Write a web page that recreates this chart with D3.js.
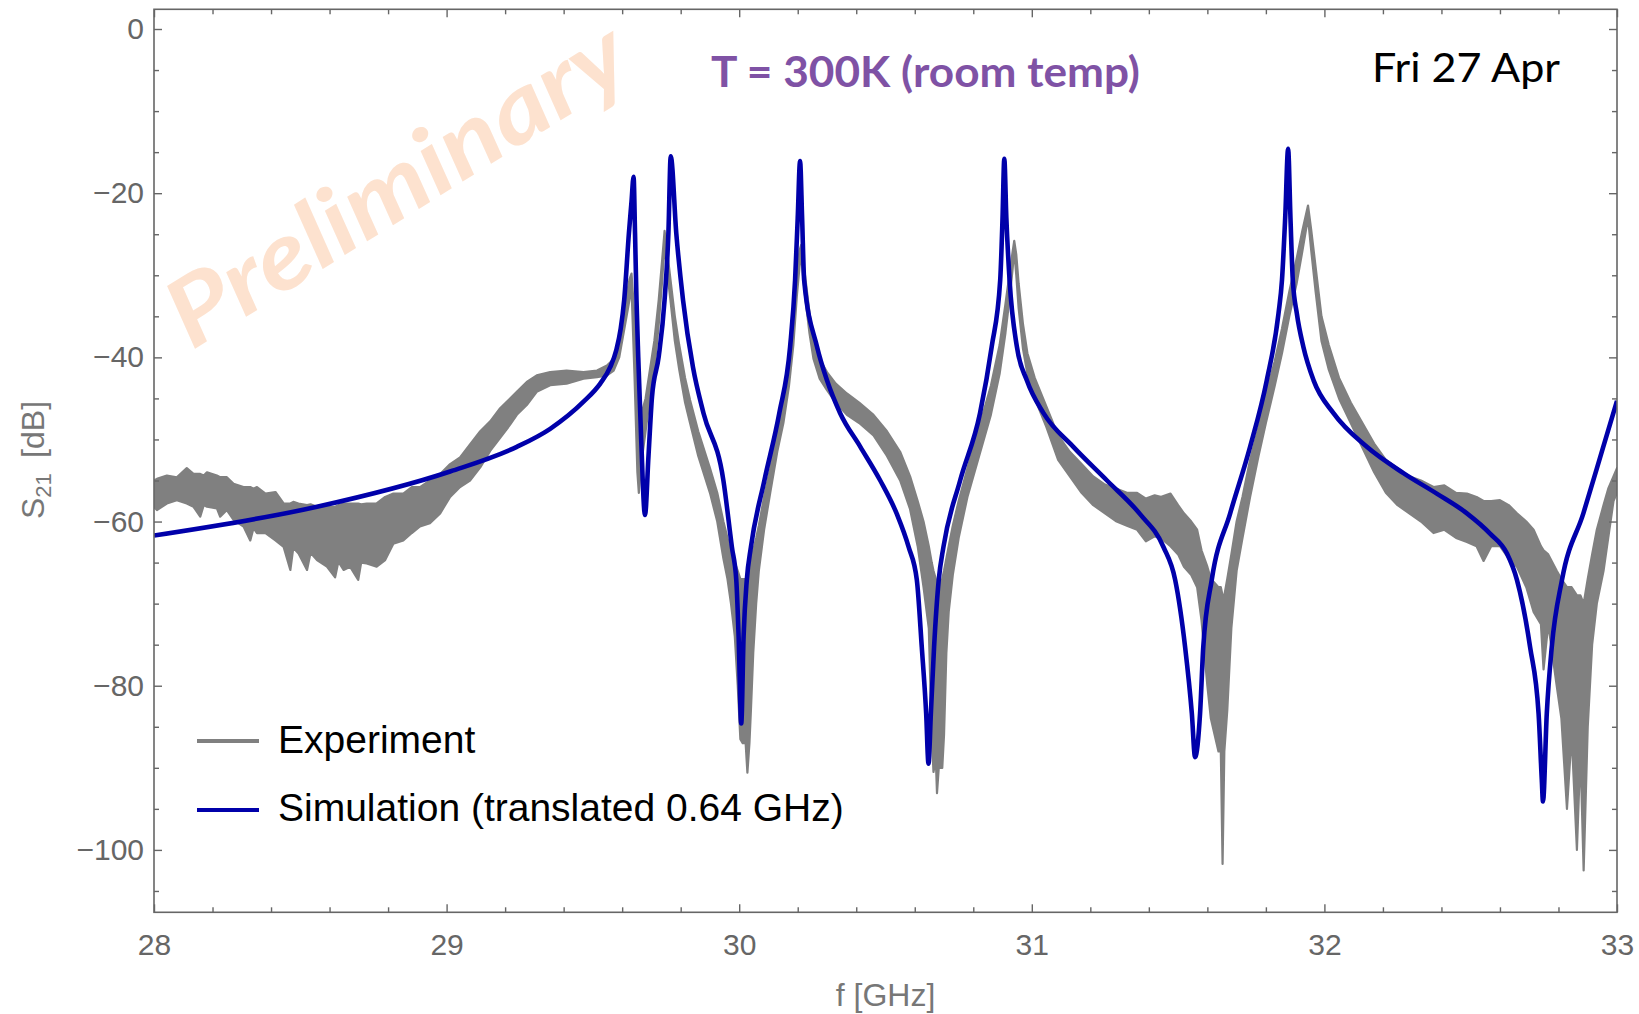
<!DOCTYPE html>
<html>
<head>
<meta charset="utf-8">
<script src="https://cdn.jsdelivr.net/npm/d3@7"></script>
<style>
  html, body { margin: 0; padding: 0; background: #fff; }
  svg { display: block; }
</style>
</head>
<body>
<div id="chart"></div>
<script>
// Measured S21 (grey trace): frequency in GHz with the upper and lower edge of the noisy band in dB.
const expFreq = [
  28.0, 28.01, 28.044, 28.078, 28.112, 28.135, 28.158, 28.17, 28.181, 28.215, 28.226, 28.249,
  28.272, 28.306, 28.329, 28.34, 28.352, 28.381, 28.415, 28.443, 28.466, 28.476, 28.494, 28.523,
  28.535, 28.557, 28.591, 28.619, 28.63, 28.648, 28.67, 28.698, 28.708, 28.727, 28.761, 28.79,
  28.818, 28.852, 28.881, 28.909, 28.943, 28.978, 29.012, 29.046, 29.08, 29.115, 29.149, 29.183,
  29.217, 29.24, 29.274, 29.308, 29.354, 29.41, 29.468, 29.514, 29.548, 29.571, 29.59, 29.61,
  29.625, 29.632, 29.642, 29.652, 29.657, 29.665, 29.68, 29.695, 29.71, 29.725, 29.737, 29.745,
  29.752, 29.765, 29.78, 29.795, 29.815, 29.832, 29.86, 29.9, 29.925, 29.946, 29.96, 29.972,
  29.985, 29.995, 30.004, 30.012, 30.022, 30.028, 30.035, 30.04, 30.048, 30.058, 30.067, 30.085,
  30.106, 30.13, 30.151, 30.17, 30.185, 30.197, 30.206, 30.212, 30.218, 30.225, 30.24, 30.254,
  30.275, 30.3, 30.33, 30.368, 30.41, 30.459, 30.505, 30.55, 30.584, 30.61, 30.63, 30.648,
  30.658, 30.664, 30.672, 30.676, 30.682, 30.694, 30.7, 30.708, 30.716, 30.73, 30.75, 30.78,
  30.82, 30.86, 30.89, 30.91, 30.925, 30.935, 30.94, 30.947, 30.955, 30.97, 30.985, 31.01,
  31.05, 31.09, 31.13, 31.17, 31.21, 31.25, 31.29, 31.325, 31.36, 31.39, 31.42, 31.44,
  31.474, 31.5, 31.52, 31.545, 31.565, 31.58, 31.6, 31.612, 31.625, 31.638, 31.646, 31.652,
  31.658, 31.668, 31.682, 31.7, 31.72, 31.746, 31.775, 31.8, 31.83, 31.855, 31.88, 31.905,
  31.925, 31.944, 31.955, 31.97, 31.99, 32.015, 32.05, 32.09, 32.13, 32.17, 32.21, 32.25,
  32.29, 32.33, 32.373, 32.41, 32.45, 32.487, 32.52, 32.544, 32.57, 32.6, 32.63, 32.658,
  32.69, 32.715, 32.74, 32.749, 32.765, 32.794, 32.81, 32.829, 32.845, 32.863, 32.875, 32.886,
  32.9, 32.915, 32.931, 32.954, 32.97, 32.988, 33.0
];
const expUpper = [
  -55.0, -54.8, -54.4, -54.6, -53.5, -54.2, -54.2, -54.4, -54.0, -54.4, -54.6, -54.6,
  -55.4, -55.8, -55.8, -56.0, -55.8, -56.6, -56.4, -57.8, -57.8, -57.6, -57.8, -58.0,
  -57.9, -58.2, -58.2, -58.2, -58.0, -57.8, -57.8, -57.8, -57.9, -57.8, -57.8, -57.0,
  -56.6, -56.6, -55.8, -55.8, -55.0, -54.2, -53.0, -52.2, -50.6, -49.0, -47.8, -46.2,
  -45.0, -44.2, -43.0, -42.2, -41.8, -41.6, -41.8, -41.6, -41.0, -40.2, -38.0, -33.5,
  -30.5, -29.8, -35.0, -45.0, -49.0, -47.0, -45.0, -41.5, -38.0, -33.0, -28.0, -24.6,
  -26.5, -30.5, -35.0, -38.5, -42.5, -45.2, -49.0, -53.5, -56.5, -60.0, -62.0, -64.0,
  -65.0, -66.0, -67.0, -67.0, -67.0, -67.0, -66.0, -65.0, -63.5, -62.0, -60.5, -57.0,
  -53.5, -49.0, -45.5, -41.0, -36.0, -30.0, -27.0, -26.3, -28.0, -30.0, -34.5, -37.8,
  -40.2, -41.8, -43.2, -44.4, -45.5, -47.0, -49.0, -51.5, -54.5, -57.5, -60.0, -63.0,
  -65.0, -66.0, -67.0, -68.0, -68.0, -67.0, -66.0, -64.5, -63.0, -60.5, -57.5, -53.5,
  -48.5, -43.5, -38.5, -33.5, -29.5, -27.0, -25.8, -27.5, -31.0, -36.0, -39.5, -42.5,
  -46.0, -49.5, -51.5, -53.0, -54.5, -55.5, -56.0, -56.5, -56.5, -57.2, -56.8, -57.0,
  -56.6, -58.0, -59.0, -60.0, -61.0, -63.5, -65.5, -67.0, -67.5, -68.0, -68.0, -69.0,
  -69.0, -67.0, -64.0, -60.0, -57.0, -52.5, -48.5, -44.5, -40.5, -36.5, -32.0, -28.0,
  -24.5, -21.5, -24.5, -29.0, -35.0, -38.5, -42.5, -45.5, -48.0, -50.5, -52.5, -53.5,
  -54.5, -55.0, -55.8, -55.6, -56.5, -56.6, -57.0, -57.5, -57.5, -57.4, -58.0, -59.0,
  -60.0, -61.0, -63.0, -63.5, -64.0, -66.0, -67.0, -68.0, -68.0, -69.0, -69.0, -70.0,
  -67.0, -64.0, -61.0, -58.0, -56.0, -54.5, -53.5
];
const expLower = [
  -58.2, -58.6, -57.8, -57.4, -57.8, -58.2, -59.4, -58.0, -58.2, -58.4, -59.4, -58.6,
  -59.8, -60.6, -62.3, -60.8, -61.4, -61.4, -62.3, -63.1, -65.9, -63.2, -63.9, -65.9,
  -63.8, -64.7, -65.5, -66.8, -64.9, -65.9, -65.5, -67.1, -65.0, -65.1, -65.5, -64.7,
  -62.7, -62.3, -61.4, -60.6, -60.2, -59.0, -57.0, -55.8, -55.0, -53.4, -51.4, -49.8,
  -48.2, -47.0, -45.8, -44.2, -43.4, -43.2, -42.6, -42.4, -42.2, -41.6, -40.0, -36.0,
  -33.0, -31.5, -42.0, -54.0, -56.5, -53.0, -49.0, -45.0, -41.5, -36.0, -30.5, -26.2,
  -29.0, -33.0, -38.0, -41.5, -45.5, -48.0, -52.0, -56.5, -60.0, -64.5, -67.0, -70.0,
  -74.0, -80.0, -86.5, -87.0, -87.0, -90.6, -87.0, -83.0, -76.0, -70.0, -66.0, -61.0,
  -56.5, -51.5, -48.0, -43.5, -38.5, -32.5, -29.0, -27.5, -30.0, -32.5, -37.0, -40.2,
  -42.6, -44.0, -45.5, -47.0, -48.0, -49.5, -52.0, -55.0, -58.5, -63.0, -68.0, -73.0,
  -86.0, -90.5, -89.0, -93.1, -90.0, -90.0, -86.0, -76.0, -71.0, -66.5, -62.0, -57.0,
  -52.0, -47.0, -42.0, -37.0, -32.5, -29.0, -27.0, -30.0, -34.0, -39.0, -42.0, -45.0,
  -48.5, -52.5, -54.5, -56.5, -58.0, -59.0, -60.0, -60.5, -61.0, -62.4, -61.8, -62.0,
  -63.0, -64.0, -65.5, -66.5, -68.0, -72.0, -80.0, -84.0, -86.0, -88.0, -88.0, -101.7,
  -88.0, -83.0, -73.0, -66.0, -62.0, -57.0, -52.0, -48.0, -43.5, -39.5, -35.0, -31.0,
  -27.0, -23.0, -27.0, -32.0, -38.0, -41.5, -45.0, -48.0, -51.0, -54.0, -56.5, -58.0,
  -59.0, -60.0, -61.4, -61.0, -62.0, -62.5, -63.0, -64.8, -63.0, -63.0, -64.5, -65.5,
  -68.0, -71.0, -72.5, -78.0, -72.5, -80.0, -84.0, -95.0, -86.0, -100.0, -88.0, -102.5,
  -85.0, -75.0, -70.0, -66.0, -62.0, -57.5, -56.5
];

// Simulated S21 (blue curve), shifted by 0.64 GHz.
const simFreq = [
  28.0, 28.557, 29.012, 29.24, 29.354, 29.468, 29.525, 29.559, 29.58, 29.595, 29.607, 29.623,
  29.632, 29.639, 29.644, 29.649, 29.655, 29.665, 29.678, 29.69, 29.702, 29.725, 29.745, 29.758,
  29.766, 29.785, 29.808, 29.842, 29.878, 29.946, 29.975, 29.99, 29.998, 30.007, 30.015, 30.026,
  30.04, 30.086, 30.137, 30.174, 30.191, 30.2, 30.208, 30.215, 30.222, 30.266, 30.3, 30.345,
  30.414, 30.482, 30.539, 30.579, 30.607, 30.624, 30.639, 30.647, 30.655, 30.666, 30.682, 30.698,
  30.755, 30.823, 30.863, 30.892, 30.9, 30.906, 30.913, 30.924, 30.949, 30.983, 31.04, 31.142,
  31.257, 31.37, 31.45, 31.49, 31.524, 31.547, 31.558, 31.575, 31.586, 31.615, 31.678, 31.746,
  31.803, 31.843, 31.855, 31.866, 31.876, 31.884, 31.892, 31.906, 31.928, 31.963, 32.031, 32.145,
  32.27, 32.384, 32.487, 32.567, 32.624, 32.658, 32.703, 32.732, 32.743, 32.747, 32.76, 32.777,
  32.812, 32.885, 32.953, 33.0
];
const simDb = [
  -61.7, -58.2, -53.9, -50.9, -48.7, -45.4, -43.2, -41.2, -39.1, -36.5, -33.0, -24.9,
  -21.0, -18.0, -24.9, -33.0, -40.0, -50.0, -59.2, -52.0, -44.8, -39.9, -33.0, -24.9,
  -15.5, -24.9, -33.0, -41.2, -46.8, -55.0, -63.1, -67.1, -74.0, -84.6, -74.0, -67.1,
  -63.1, -55.0, -46.8, -38.7, -30.6, -23.0, -16.1, -23.0, -30.6, -38.7, -42.8, -46.8,
  -50.9, -55.0, -59.1, -63.1, -67.1, -75.3, -83.4, -89.5, -83.4, -75.3, -67.1, -63.1,
  -55.0, -46.8, -38.7, -30.6, -23.0, -15.8, -23.0, -30.6, -38.7, -42.8, -46.8, -50.9,
  -55.0, -59.1, -63.1, -67.1, -75.3, -83.4, -88.7, -83.4, -75.3, -67.1, -59.0, -50.9,
  -42.8, -34.7, -30.6, -23.0, -14.6, -23.0, -30.6, -34.7, -38.7, -42.8, -46.8, -50.9,
  -54.1, -56.6, -59.0, -61.5, -63.9, -67.1, -75.3, -83.4, -91.5, -94.1, -83.4, -75.3,
  -67.1, -59.0, -50.9, -45.3
];

const xTicks = [28, 29, 30, 31, 32, 33];
const yTicks = [0, -20, -40, -60, -80, -100];
const seriesNames = ['Experiment', 'Simulation (translated 0.64 GHz)'];

(function(){
  const width = 1639, height = 1014;
  const frame = {left: 154, right: 1617, top: 9.3, bottom: 912.3};
  const frameColor = '#666';
  const expColor = '#808080';
  const simColor = '#0000aa';
  const labelFont = '"Liberation Sans", Arial, Helvetica, sans-serif';

  const svg = d3.select('#chart').append('svg')
    .attr('width', width)
    .attr('height', height);

  const x = d3.scaleLinear().domain([28, 33]).range([frame.left, frame.right]);
  const y = d3.scaleLinear().domain([-107.6, 2.4]).range([frame.bottom, frame.top]);

  svg.append('defs').append('clipPath').attr('id', 'plot-clip')
    .append('rect')
    .attr('x', frame.left).attr('y', frame.top)
    .attr('width', frame.right - frame.left)
    .attr('height', frame.bottom - frame.top);

  // Watermark sits underneath everything.
  svg.append('text')
    .attr('transform', 'translate(414,212) rotate(-32)')
    .attr('text-anchor', 'middle')
    .attr('font-family', 'Lato, "Open Sans", sans-serif')
    .attr('font-weight', 700)
    .attr('font-style', 'italic')
    .attr('font-size', 94)
    .attr('fill', '#fde2cf')
    .attr('textLength', 525)
    .attr('lengthAdjust', 'spacingAndGlyphs')
    .text('Preliminary');

  const plot = svg.append('g').attr('clip-path', 'url(#plot-clip)');

  // Noisy measurement drawn as a band between its upper and lower edge.
  const expRows = expFreq.map((f, i) => ({f, hi: expUpper[i], lo: expLower[i]}));
  const band = d3.area()
    .x(d => x(d.f))
    .y0(d => y(d.lo))
    .y1(d => y(d.hi));

  plot.append('path')
    .datum(expRows)
    .attr('d', band)
    .attr('fill', expColor)
    .attr('stroke', expColor)
    .attr('stroke-width', 2.2)
    .attr('stroke-linejoin', 'round');

  const simRows = simFreq.map((f, i) => ({f, db: simDb[i]}));
  const line = d3.line()
    .x(d => x(d.f))
    .y(d => y(d.db))
    .curve(d3.curveMonotoneX);

  plot.append('path')
    .datum(simRows)
    .attr('d', line)
    .attr('fill', 'none')
    .attr('stroke', simColor)
    .attr('stroke-width', 4.6)
    .attr('stroke-linejoin', 'round');

  // Frame with inward ticks on all four sides.
  const xMinor = d3.range(28, 33.001, 0.2).filter(v => Math.abs(v - Math.round(v)) > 1e-6);
  const yMinor = d3.range(0, -107.6, -5).filter(v => v % 20 !== 0);

  function styleAxis(g){
    g.select('.domain').remove();
    g.selectAll('.tick line').attr('stroke', frameColor).attr('stroke-width', 1.4);
    g.selectAll('.tick text')
      .attr('fill', '#666')
      .attr('font-family', labelFont)
      .attr('font-size', 30);
  }

  svg.append('g')
    .attr('transform', `translate(0,${frame.bottom})`)
    .call(d3.axisBottom(x).tickValues(xTicks).tickSize(-8).tickPadding(21).tickFormat(d3.format('d')))
    .call(styleAxis);
  svg.append('g')
    .attr('transform', `translate(0,${frame.bottom})`)
    .call(d3.axisBottom(x).tickValues(xMinor).tickSize(-5).tickFormat(''))
    .call(styleAxis);
  svg.append('g')
    .attr('transform', `translate(0,${frame.top})`)
    .call(d3.axisTop(x).tickValues(xTicks).tickSize(-8).tickFormat(''))
    .call(styleAxis);
  svg.append('g')
    .attr('transform', `translate(0,${frame.top})`)
    .call(d3.axisTop(x).tickValues(xMinor).tickSize(-5).tickFormat(''))
    .call(styleAxis);

  svg.append('g')
    .attr('transform', `translate(${frame.left},0)`)
    .call(d3.axisLeft(y).tickValues(yTicks).tickSize(-8).tickPadding(10).tickFormat(d3.format('d')))
    .call(styleAxis);
  svg.append('g')
    .attr('transform', `translate(${frame.left},0)`)
    .call(d3.axisLeft(y).tickValues(yMinor).tickSize(-5).tickFormat(''))
    .call(styleAxis);
  svg.append('g')
    .attr('transform', `translate(${frame.right},0)`)
    .call(d3.axisRight(y).tickValues(yTicks).tickSize(-8).tickFormat(''))
    .call(styleAxis);
  svg.append('g')
    .attr('transform', `translate(${frame.right},0)`)
    .call(d3.axisRight(y).tickValues(yMinor).tickSize(-5).tickFormat(''))
    .call(styleAxis);

  svg.append('rect')
    .attr('x', frame.left).attr('y', frame.top)
    .attr('width', frame.right - frame.left)
    .attr('height', frame.bottom - frame.top)
    .attr('fill', 'none')
    .attr('stroke', frameColor)
    .attr('stroke-width', 1.6);

  // Axis titles.
  svg.append('text')
    .attr('x', (frame.left + frame.right) / 2)
    .attr('y', 1006)
    .attr('text-anchor', 'middle')
    .attr('font-family', labelFont)
    .attr('font-size', 32)
    .attr('fill', '#777')
    .text('f [GHz]');

  const yTitle = svg.append('text')
    .attr('transform', 'translate(44,460) rotate(-90)')
    .attr('text-anchor', 'middle')
    .attr('font-family', labelFont)
    .attr('font-size', 32)
    .attr('fill', '#777');
  yTitle.append('tspan').text('S');
  yTitle.append('tspan').attr('font-size', 22).attr('dy', 7).text('21');
  yTitle.append('tspan').attr('dy', -7).text('\u2009 [dB]');

  // Annotations.
  svg.append('text')
    .attr('x', 711).attr('y', 87)
    .attr('font-family', 'Lato, "Open Sans", sans-serif')
    .attr('font-weight', 700)
    .attr('font-size', 42)
    .attr('fill', '#7f52a5')
    .attr('textLength', 429)
    .attr('lengthAdjust', 'spacingAndGlyphs')
    .text('T = 300K (room temp)');

  svg.append('text')
    .attr('x', 1372).attr('y', 82)
    .attr('font-family', 'Lato, "Open Sans", sans-serif')
    .attr('font-size', 40)
    .attr('fill', '#000')
    .attr('textLength', 188)
    .attr('lengthAdjust', 'spacingAndGlyphs')
    .text('Fri 27 Apr');

  // Legend in the lower-left corner.
  const legend = svg.append('g').attr('class', 'legend');
  const legendRows = [
    {name: seriesNames[0], color: expColor, cy: 741, base: 753},
    {name: seriesNames[1], color: simColor, cy: 810, base: 821}
  ];
  legend.selectAll('line')
    .data(legendRows)
    .join('line')
    .attr('x1', 197).attr('x2', 259)
    .attr('y1', d => d.cy).attr('y2', d => d.cy)
    .attr('stroke', d => d.color)
    .attr('stroke-width', 4);
  legend.selectAll('text')
    .data(legendRows)
    .join('text')
    .attr('x', 278)
    .attr('y', d => d.base)
    .attr('font-family', labelFont)
    .attr('font-size', 39)
    .attr('fill', '#000')
    .text(d => d.name);
})();
</script>
</body>
</html>
